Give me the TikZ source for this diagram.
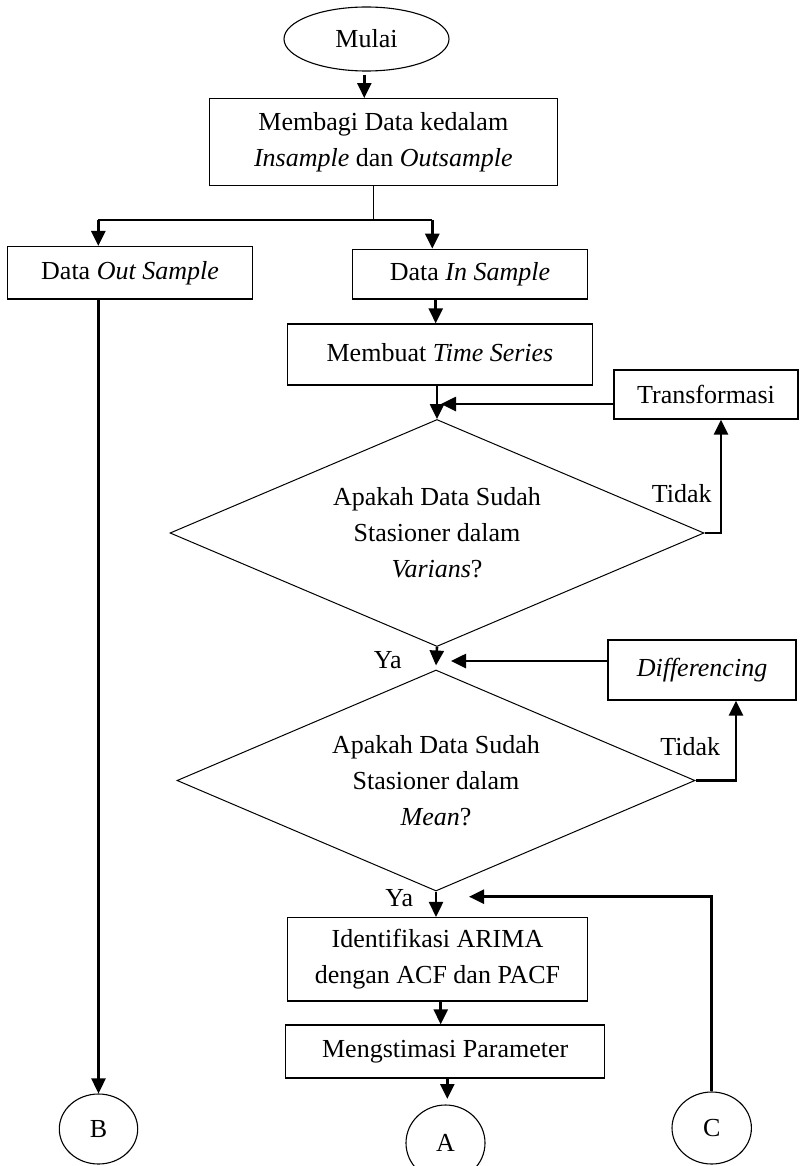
\documentclass[tikz,border=0pt]{standalone}
\usepackage{fontspec}
\setmainfont{Liberation Serif}
\usetikzlibrary{shapes.geometric,arrows.meta,calc}
\begin{document}
\begin{tikzpicture}[x=0.5pt,y=-0.5pt,
  every node/.style={font=\fontsize{13}{18}\selectfont, inner sep=0pt},
  box/.style={draw, line width=0.65pt, rectangle, align=center},
  term/.style={draw, line width=0.55pt, ellipse},
  dec/.style={draw, line width=0.5pt, diamond, aspect=2.35, align=center},
  conn/.style={line width=1.3pt},
  arr/.style={line width=1.3pt, -{Triangle[length=7.5pt,width=7pt]}},
  lbl/.style={anchor=base west}
]
\fill[white] (0,0) rectangle (799,1166);
\useasboundingbox (0,0) rectangle (799,1166);

% nodes
\node[term, minimum width=82.5pt, minimum height=32pt] (mulai) at (366.5,39) {Mulai};
\node[box, minimum width=174pt, minimum height=43.5pt] (membagi) at (383.3,142.2) {Membagi Data kedalam\\\textit{Insample} dan \textit{Outsample}};
\node[box, minimum width=122.7pt, minimum height=26.2pt] (outbox) at (130,272.8) {Data \textit{Out Sample}};
\node[box, minimum width=117.3pt, minimum height=24.9pt] (inbox) at (470,274.2) {Data \textit{In Sample}};
\node[box, minimum width=152.3pt, minimum height=30.5pt] (ts) at (440,354.5) {\raisebox{2pt}{Membuat \textit{Time Series}}};
\node[box, minimum width=92pt, minimum height=24.5pt] (trans) at (706,394.5) {Transformasi};
\node[dec, minimum width=267pt, minimum height=113.5pt] (d1) at (437,533) {Apakah Data Sudah\\Stasioner dalam\\\textit{Varians}?};
\node[box, minimum width=94pt, minimum height=30pt] (diff) at (702,670) {\textit{Differencing}};
\node[dec, minimum width=259pt, minimum height=110.5pt] (d2) at (436,780.5) {Apakah Data Sudah\\Stasioner dalam\\\textit{Mean}?};
\node[box, minimum width=149.8pt, minimum height=41.7pt] (ident) at (437.5,959.3) {Identifikasi ARIMA\\dengan ACF dan PACF};
\node[box, minimum width=159.5pt, minimum height=26.5pt] (meng) at (445.2,1051.5) {Mengstimasi Parameter};
\node[term, minimum width=39.5pt, minimum height=38pt] (A) at (445.5,1143) {A};
\node[term, minimum width=39.2pt, minimum height=35pt] (B) at (98.5,1129) {B};
\node[term, minimum width=39.7pt, minimum height=36pt] (C) at (711.7,1128) {C};

% labels
\node[lbl] (t1) at (651.5,502.5) {Tidak};
\node[lbl] (t2) at (660,755.8) {Tidak};
\node[lbl] (y1) at (373.5,668) {Ya};
\node[lbl] (y2) at (385,906.5) {Ya};

% helper coordinates
\coordinate (m0) at (364.3,75);
\coordinate (sp) at (373.7,220);
\coordinate (spL) at (98.3,220);
\coordinate (spR) at (432.3,220);
\coordinate (x0) at (435.7,0);
\coordinate (j1) at (441,404);
\coordinate (j2) at (451,661);
\coordinate (x1) at (440.7,0);
\coordinate (j4) at (447.3,1099);
\coordinate (j3) at (469,896.7);

% connectors
\draw[arr] (m0) -- (m0 |- membagi.north);
\draw[line width=0.5pt] (sp |- membagi.south) -- (sp);
\draw[line width=0.9pt] (spL) -- (spR);
\draw[arr] (spL) -- (spL |- outbox.north);
\draw[arr] (spR) -- (spR |- inbox.north);
\draw[arr] (x0 |- inbox.south) -- (x0 |- ts.north);
\draw[arr] (d1.north |- ts.south) -- (d1.north);
\draw[arr] (trans.west |- j1) -- (j1);
\draw[arr] (d1.east) -| ($(trans.south)+(15,0)$);
\draw[arr] (d1.south) -- ($(d2.north)+(0,-4)$);
\draw[arr] (diff.west |- j2) -- (j2);
\draw[arr] (d2.east) -| ($(diff.south)+(34,0)$);
\draw[arr] (d2.south) -- (d2.south |- ident.north);
\draw[arr] (x1 |- ident.south) -- (x1 |- meng.north);
\draw[arr] (j4 |- meng.south) -- (j4);
\draw[arr] (C.north) |- (j3);
\draw[arr] (outbox.south -| B.north) -- (B.north);
\end{tikzpicture}
\end{document}
